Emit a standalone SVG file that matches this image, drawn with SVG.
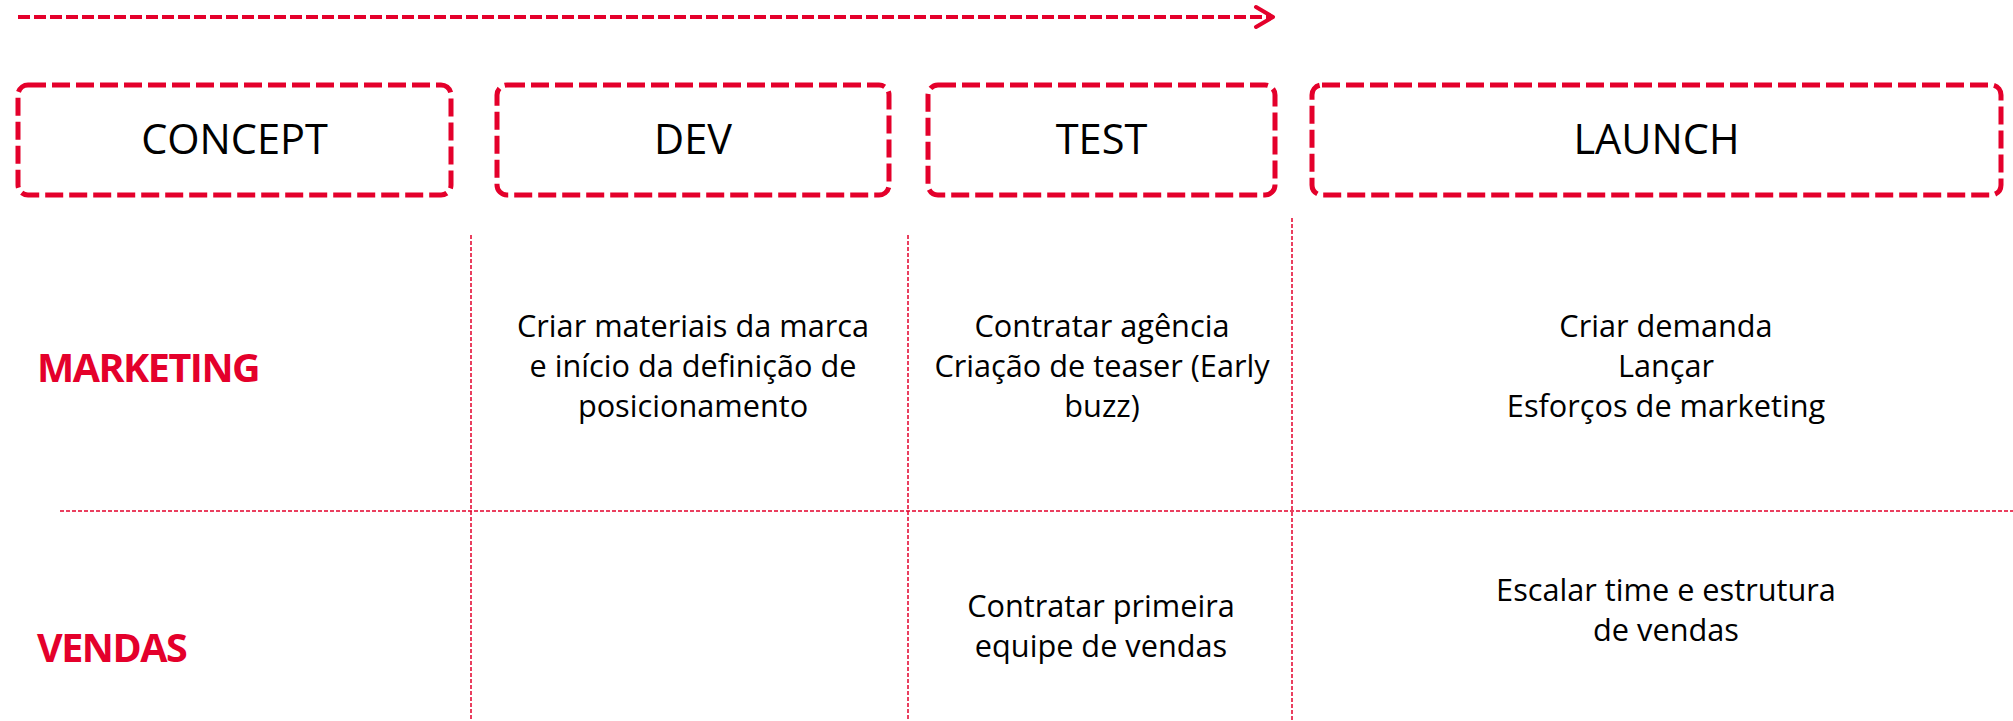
<svg xmlns="http://www.w3.org/2000/svg" width="2013" height="721" viewBox="0 0 2013 721">
<style>
  .box { fill: none; stroke: #e4002b; stroke-width: 5; stroke-dasharray: 18 6; }
  .grid { stroke: #e4002b; stroke-width: 1.5; stroke-dasharray: 4 2; fill: none; }
  .arrow { stroke: #e4002b; stroke-width: 4; fill: none; }
  .hdr { font-family: "Open Sans", "Noto Sans", "Liberation Sans", sans-serif; font-size: 41.5px; fill: #000; text-anchor: middle; }
  .row { font-family: "Open Sans", "Noto Sans", "Liberation Sans", sans-serif; font-size: 39.5px; font-weight: 700; letter-spacing: -1.5px; fill: #e4002b; }
  .body { font-family: "Open Sans", "Noto Sans", "Liberation Sans", sans-serif; font-size: 30.7px; fill: #000; text-anchor: middle; }
</style>
<rect width="2013" height="721" fill="#ffffff"/>
<g id="connectors">
  <line class="arrow" x1="18" y1="17" x2="1271" y2="17" stroke-dasharray="12 4"/>
  <polyline class="arrow" points="1256,7 1273,17 1256,27" stroke-linecap="round" stroke-linejoin="round"/>
  <line class="grid" x1="471" y1="235" x2="471" y2="721"/>
  <line class="grid" x1="908" y1="235" x2="908" y2="721"/>
  <line class="grid" x1="1292" y1="218" x2="1292" y2="721"/>
  <line class="grid" x1="60" y1="511" x2="2013" y2="511"/>
</g>
<g id="concept">
  <rect class="box" x="18" y="85" width="433" height="110" rx="10"/>
  <text class="hdr" x="234.5" y="154">CONCEPT</text>
</g>
<g id="dev">
  <rect class="box" x="497" y="85" width="392" height="110" rx="10"/>
  <text class="hdr" x="693" y="154">DEV</text>
</g>
<g id="test">
  <rect class="box" x="928" y="85" width="347" height="110" rx="10"/>
  <text class="hdr" x="1101.5" y="154">TEST</text>
</g>
<g id="launch">
  <rect class="box" x="1312" y="85" width="689" height="110" rx="10"/>
  <text class="hdr" x="1656.5" y="154">LAUNCH</text>
</g>
<g id="row-marketing">
  <text class="row" x="37" y="382">MARKETING</text>
</g>
<g id="row-vendas">
  <text class="row" x="37" y="662">VENDAS</text>
</g>
<g id="dev-marketing">
  <text class="body" x="693" y="337">Criar materiais da marca</text>
  <text class="body" x="693" y="377">e início da definição de</text>
  <text class="body" x="693" y="417">posicionamento</text>
</g>
<g id="test-marketing">
  <text class="body" x="1102" y="337">Contratar agência</text>
  <text class="body" x="1102" y="377">Criação de teaser (Early</text>
  <text class="body" x="1102" y="417">buzz)</text>
</g>
<g id="launch-marketing">
  <text class="body" x="1666" y="337">Criar demanda</text>
  <text class="body" x="1666" y="377">Lançar</text>
  <text class="body" x="1666" y="417">Esforços de marketing</text>
</g>
<g id="test-vendas">
  <text class="body" x="1101" y="617">Contratar primeira</text>
  <text class="body" x="1101" y="657">equipe de vendas</text>
</g>
<g id="launch-vendas">
  <text class="body" x="1666" y="601">Escalar time e estrutura</text>
  <text class="body" x="1666" y="641">de vendas</text>
</g>
</svg>
